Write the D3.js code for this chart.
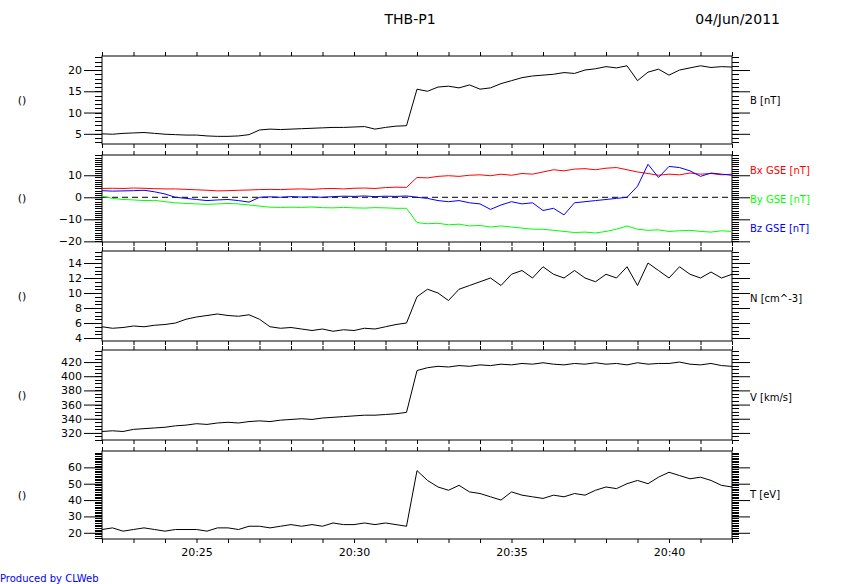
<!DOCTYPE html><html><head><meta charset="utf-8"><script src="https://cdn.jsdelivr.net/npm/d3@7"></script>
<style>body{margin:0;background:#fff}text{font-family:"DejaVu Sans",sans-serif}</style></head><body><svg id="c" width="864" height="584"></svg>
<script>
const startMin=22, stepSec=20;
const B=[5.0,4.9,5.1,5.2,5.3,5.1,4.9,4.8,4.7,4.7,4.5,4.4,4.4,4.5,4.8,5.9,6.1,6.0,6.1,6.2,6.3,6.4,6.5,6.5,6.6,6.7,6.1,6.5,6.8,6.9,15.5,15.0,16.0,16.2,15.8,16.5,15.5,15.8,16.8,17.5,18.2,18.6,18.8,19.0,19.4,19.2,20.0,20.3,20.8,20.5,21.0,17.5,19.5,20.2,18.8,20.0,20.5,21.0,20.6,20.8,20.7];
const Bx=[4.0,4.1,4.0,4.2,4.1,3.9,3.8,3.8,3.6,3.4,3.2,2.9,3.0,3.2,3.3,3.5,3.6,3.5,3.7,3.8,3.6,3.9,4.0,3.8,4.1,4.2,4.0,4.4,4.6,4.5,9.0,8.8,9.5,9.8,9.5,10.0,10.2,9.8,10.5,10.0,10.8,10.5,11.5,12.5,12.0,12.8,13.0,12.5,13.2,13.5,12.5,11.5,10.8,10.0,10.5,10.2,11.0,10.5,10.8,10.2,10.5];
const By=[0.5,-0.5,-1.0,-1.2,-1.5,-1.4,-2.0,-2.5,-2.8,-3.0,-3.2,-3.0,-2.8,-3.0,-3.5,-4.0,-4.5,-4.6,-4.5,-4.6,-4.4,-4.7,-4.8,-4.6,-4.8,-4.9,-4.7,-4.8,-5.0,-5.0,-11.5,-12.0,-11.8,-12.5,-12.2,-13.0,-12.8,-13.5,-13.0,-13.5,-14.0,-14.5,-14.5,-15.0,-15.5,-16.0,-15.8,-16.2,-15.5,-14.5,-13.0,-14.5,-15.0,-14.8,-15.5,-15.2,-15.0,-15.5,-15.8,-15.2,-15.5];
const Bz=[3.0,2.8,2.9,3.0,3.2,2.5,1.5,0.0,-0.5,-1.0,-1.5,-1.2,-1.0,-1.5,-2.2,0.0,0.2,0.0,0.3,0.1,0.2,0.0,0.3,0.5,0.4,0.6,0.3,0.5,0.4,0.6,0.0,-0.5,-1.5,-2.0,-1.5,-2.5,-3.0,-5.5,-3.5,-2.0,-3.0,-2.5,-6.0,-5.0,-8.0,-2.5,-2.0,-1.5,-1.0,-0.5,0.0,5.0,15.0,9.0,14.0,13.5,12.0,9.5,11.0,10.5,10.0];
const N=[5.5,5.3,5.4,5.6,5.5,5.7,5.8,6.0,6.5,6.8,7.0,7.2,7.0,6.9,7.1,6.5,5.5,5.3,5.4,5.2,5.0,5.2,4.9,5.1,5.0,5.3,5.2,5.5,5.8,6.0,9.5,10.5,10.0,9.0,10.5,11.0,11.5,12.0,11.0,12.5,13.0,12.0,13.5,12.5,12.0,13.0,12.0,11.5,12.5,12.0,13.5,11.0,14.0,13.0,12.0,13.5,12.5,12.0,12.8,12.0,12.5];
const V=[322,323,322,325,326,327,328,330,331,333,332,334,335,334,336,337,336,338,339,340,339,341,342,343,344,345,345,346,347,349,408,412,414,413,415,414,416,415,417,416,418,417,419,417,416,418,417,419,417,418,416,419,417,418,418,420,417,416,418,415,414];
const T=[22,23,21,22,23,22,21,22,22,22,21,23,23,22,24,24,23,24,25,24,25,24,26,25,25,26,25,26,25,24,58,52,48,46,49,45,44,42,40,45,43,42,41,43,42,44,43,46,48,47,50,52,50,54,57,55,53,54,52,49,48];
const panels=[
 {top:56,bot:144,dom:[2.6,23.3],major:[5,10,15,20],minor:1,series:[{d:B,c:"#000"}],labels:[{t:"B [nT]",c:"#000",y:100}]},
 {top:155,bot:242,dom:[-20.3,19.2],major:[-20,-10,0,10],minor:1,zero:true,series:[{d:Bx,c:"#f00"},{d:By,c:"#0f0"},{d:Bz,c:"#00f"}],labels:[{t:"Bx GSE [nT]",c:"#f00",y:170},{t:"By GSE [nT]",c:"#0f0",y:199},{t:"Bz GSE [nT]",c:"#00f",y:228}]},
 {top:251,bot:341,dom:[3.6,15.6],major:[4,6,8,10,12,14],minor:0.5,series:[{d:N,c:"#000"}],labels:[{t:"N [cm^-3]",c:"#000",y:298}]},
 {top:350,bot:440,dom:[310,437],major:[320,340,360,380,400,420],minor:5,series:[{d:V,c:"#000"}],labels:[{t:"V [km/s]",c:"#000",y:397}]},
 {top:451,bot:539,dom:[16.2,70],major:[20,30,40,50,60],minor:1,series:[{d:T,c:"#000"}],labels:[{t:"T [eV]",c:"#000",y:494}]}
];
const svg=d3.select("#c");
const x=d3.scaleLinear().domain([22,42]).range([102,732]);
const tm=i=>startMin+i*stepSec/60;
svg.append("text").attr("x",410).attr("y",24).attr("text-anchor","middle").attr("font-size",14).text("THB-P1");
svg.append("text").attr("x",780).attr("y",24).attr("text-anchor","end").attr("font-size",14).text("04/Jun/2011");
svg.append("text").attr("x",0).attr("y",582).attr("fill","#00f").attr("font-size",10).text("Produced by CLWeb");
panels.forEach((p,k)=>{
 const y=d3.scaleLinear().domain(p.dom).range([p.bot,p.top]);
 const g=svg.append("g");
 const minors=d3.range(Math.ceil(p.dom[0]/p.minor)*p.minor,p.dom[1],p.minor);
 minors.forEach(v=>{
  g.append("line").attr("x1",95).attr("x2",102).attr("y1",Math.round(y(v))+.5).attr("y2",Math.round(y(v))+.5).attr("stroke","#000");
  g.append("line").attr("x1",732).attr("x2",739).attr("y1",Math.round(y(v))+.5).attr("y2",Math.round(y(v))+.5).attr("stroke","#000");
 });
 const la=d3.axisLeft(y).tickValues(p.major).tickSize(18).tickPadding(2).tickFormat(d=>String(d).replace("-","\u2212"));
 const ax=g.append("g").attr("transform","translate(102,0)").call(la);
 ax.select(".domain").remove();ax.selectAll("text").attr("font-size",11);
 const ra=g.append("g").attr("transform","translate(732,0)").call(d3.axisRight(y).tickValues(p.major).tickSize(18).tickFormat(""));
 ra.select(".domain").remove();
 const ta=g.append("g").attr("transform",`translate(0,${p.top})`).call(d3.axisTop(x).tickValues(d3.range(22,43)).tickSize(4).tickFormat(""));ta.select(".domain").remove();
 const ba=g.append("g").attr("transform",`translate(0,${p.bot})`).call(d3.axisBottom(x).tickValues(d3.range(22,43)).tickSize(4).tickFormat(v=>(k==4&&v%5==0)?"20:"+v:""));
 ba.select(".domain").remove();ba.selectAll("text").attr("font-size",11).attr("dy","0.9em");
 g.append("rect").attr("x",102).attr("y",p.top).attr("width",630).attr("height",p.bot-p.top).attr("fill","none").attr("stroke","#000");
 if(p.zero) g.append("line").attr("x1",102).attr("x2",732).attr("y1",y(0)).attr("y2",y(0)).attr("stroke","#000").attr("stroke-dasharray","6,4");
 p.series.forEach(s=>g.append("path").datum(s.d).attr("fill","none").attr("stroke",s.c).attr("stroke-width",1)
   .attr("d",d3.line().x((d,i)=>x(tm(i))).y(d=>y(d))));
 p.labels.forEach(l=>g.append("text").attr("x",750).attr("y",l.y).attr("dy","0.35em").attr("fill",l.c).attr("font-size",10).text(l.t));
 g.append("text").attr("x",22).attr("y",(p.top+p.bot)/2).attr("dy","0.35em").attr("text-anchor","middle").attr("font-size",11).text("()");
});
</script></body></html>
